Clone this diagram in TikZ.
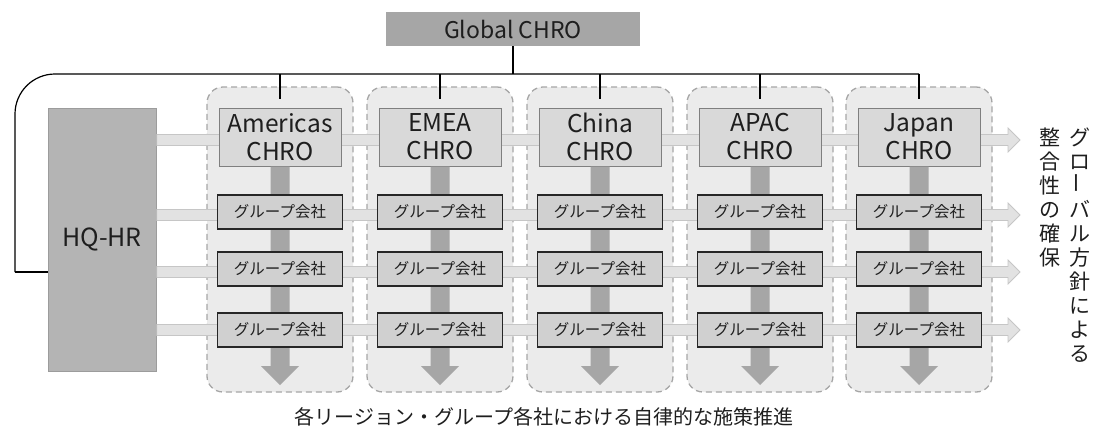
\documentclass[tikz,border=0pt]{standalone}
\usepackage{fontspec}
\setmainfont{Noto Sans CJK JP}
\usepackage{graphicx}
\usetikzlibrary{calc}

\definecolor{globalfill}{HTML}{A6A6A6}
\definecolor{hqfill}{HTML}{B4B4B4}
\definecolor{hqline}{HTML}{9C9C9C}
\definecolor{regionfill}{HTML}{EBEBEB}
\definecolor{regionline}{HTML}{A6A6A6}
\definecolor{chrofill}{HTML}{D9D9D9}
\definecolor{chroline}{HTML}{7F7F7F}
\definecolor{grpfill}{HTML}{D0D0D0}
\definecolor{grpline}{HTML}{262626}
\definecolor{bandfill}{HTML}{E2E2E2}
\definecolor{bandline}{HTML}{C6C6C6}
\definecolor{downfill}{HTML}{A6A6A6}
\definecolor{ink}{HTML}{1E1E1E}

\tikzset{
  region/.style={draw=regionline, dash pattern=on 6pt off 4pt, line width=1.3pt,
    fill=regionfill, rounded corners=16pt, minimum width=146pt,
    minimum height=305pt, inner sep=0pt},
  chro/.style={draw=chroline, fill=chrofill, line width=1pt, minimum width=122pt,
    minimum height=58pt, inner sep=0pt, align=center, text=ink,
    font=\fontsize{24.5}{28}\selectfont},
  grp/.style={draw=grpline, fill=grpfill, line width=1.2pt, minimum width=125pt,
    minimum height=34pt, inner sep=0pt, text=ink, font=\fontsize{15.5}{18}\selectfont},
  band/.style={draw=bandline, fill=bandfill, line width=0.8pt},
  down/.style={fill=downfill},
  bus/.style={line width=1.2pt, black},
  vtext/.style={align=center, inner sep=0pt, anchor=north, text=ink,
    font=\fontsize{21}{24}\selectfont}
}

\begin{document}
\begin{tikzpicture}[x=1pt, y=-1pt]

\useasboundingbox ( 0, 0 ) rectangle ( 1095, 432 );

% Region panels
\foreach \i/\x in {1/280, 2/440, 3/600, 4/760, 5/919}
  \node [region] (reg\i) at ( \x, 239.5 ) {};

% Global CHRO
\node [fill=globalfill, minimum width=254pt, minimum height=34pt, inner sep=0pt,
  text=ink, font=\fontsize{23}{26}\selectfont] (glob) at ( 513, 29 ) {Global CHRO};

% HQ-HR
\node [fill=hqfill, draw=hqline, minimum width=108pt, minimum height=263pt,
  inner sep=0pt, text=ink, font=\fontsize{25}{28}\selectfont] (hq) at ( 102, 239.5 ) {HQ-HR};

% Horizontal flows
\foreach \r/\y in {0/140, 1/215, 2/272, 3/330} {
  \coordinate (tip\r) at ( 1020, \y );
  \filldraw [band] ($(hq.east |- tip\r)+(0.6,-5.5)$) -- ($(tip\r)+(-12,-5.5)$)
    -- ($(tip\r)+(-12,-12)$) -- (tip\r) -- ($(tip\r)+(-12,12)$)
    -- ($(tip\r)+(-12,5.5)$) -- ($(hq.east |- tip\r)+(0.6,5.5)$) -- cycle;
}

% Regional CHRO
\foreach \i/\x/\name in {1/280/Americas, 2/440/EMEA, 3/600/China, 4/760/APAC, 5/919/Japan}
  \node [chro] (c\i) at ( \x, 137 ) {\name\\CHRO};

% Down arrows
\foreach \i in {1,...,5} {
  \coordinate (d\i) at (c\i.south |- 0,385);
  \fill [down] ($(c\i.south)+(-9.5,0)$) -- ($(d\i)+(-9.5,-19)$) -- ($(d\i)+(-19,-19)$)
    -- (d\i) -- ($(d\i)+(19,-19)$) -- ($(d\i)+(9.5,-19)$) -- ($(c\i.south)+(9.5,0)$) -- cycle;
}

% Group companies
\foreach \i in {1,...,5}
  \foreach \r/\y in {1/212, 2/269, 3/330}
    \node [grp] (g\i\r) at (c\i |- 0,\y) {グループ会社};

% Reporting lines
\coordinate (bus) at ( 15, 74 );
\draw [bus] (glob.south) -- (glob.south |- bus);
\draw [bus] (hq.west |- tip2) -- (bus |- tip2);
\draw [bus, rounded corners=40pt] (bus |- tip2) -- (bus) -- (c5.north |- bus);
\foreach \i in {1,...,5}
  \draw [bus] (c\i.north |- bus) -- ($(c\i.north)+(0,-9)$);

% Labels
\node [vtext] (v1) at ( 1080, 128 ) {グ\\ロ\\\rotatebox{90}{ー}\\バ\\ル\\方\\針\\に\\よ\\る};
\node [vtext] (v2) at ( 1050, 128 ) {整\\合\\性\\の\\確\\保};
\node [text=ink, font=\fontsize{20}{24}\selectfont] (note) at ( 544, 417 )
  {各リージョン・グループ各社における自律的な施策推進};

\end{tikzpicture}
\end{document}
